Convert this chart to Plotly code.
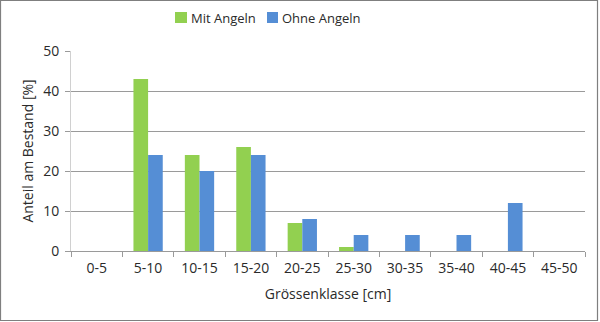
import plotly.graph_objects as go

# Size classes and shares of the stock (%)
classes = ["0-5", "5-10", "10-15", "15-20", "20-25", "25-30",
           "30-35", "35-40", "40-45", "45-50"]
mit_angeln = [0, 43, 24, 26, 7, 1, 0, 0, 0, 0]
ohne_angeln = [0, 24, 20, 24, 8, 4, 4, 4, 12, 0]
series_names = ["Mit Angeln", "Ohne Angeln"]
series_colors = ["#92D050", "#558ED5"]

FONT = "Open Sans"
TEXT = "#2a2a2a"
GRID = "#9a9a9a"

W, H = 600, 322
L, R, T, B = 71, 15, 51, 71
pw, ph = W - L - R, H - T - B


def px_x(p):
    return (p - L) / pw


def px_y(p):
    return (H - B - p) / ph


fig = go.Figure()
for name, vals, col in zip(series_names, [mit_angeln, ohne_angeln],
                           series_colors):
    fig.add_trace(go.Bar(
        x=classes, y=vals, name=name, showlegend=False,
        marker=dict(color=col, line=dict(width=0)),
    ))

# Legend: coloured squares followed by the series names
shapes = []
annotations = []
legend_pos = [(175, 187), (267, 278)]
for (sx0, sx1), name, col in zip(legend_pos, series_names, series_colors):
    shapes.append(dict(type="rect", xref="paper", yref="paper",
                       x0=px_x(sx0), x1=px_x(sx1),
                       y0=px_y(23), y1=px_y(12),
                       line=dict(width=0), fillcolor=col))
    annotations.append(dict(text=name, xref="paper", yref="paper",
                            x=px_x(sx1 + 2), y=px_y(17.5),
                            xanchor="left", yanchor="middle",
                            showarrow=False,
                            font=dict(size=13, color=TEXT)))

# Outer frame
shapes.append(dict(type="rect", xref="paper", yref="paper",
                   x0=px_x(0.5), x1=px_x(597.5),
                   y0=px_y(320.5), y1=px_y(0.5),
                   line=dict(color="#7f7f7f", width=1.2),
                   fillcolor="rgba(0,0,0,0)", layer="below"))

fig.update_layout(
    width=W, height=H,
    margin=dict(l=L, r=R, t=T, b=B),
    paper_bgcolor="white", plot_bgcolor="white",
    barmode="group", bargap=0.43, bargroupgap=0,
    font=dict(family=FONT, size=13, color=TEXT),
    xaxis=dict(
        type="category", tickson="boundaries", ticks="outside",
        ticklen=5, tickcolor=GRID, showline=True, linecolor=GRID,
        linewidth=1, showgrid=False, ticklabelstandoff=4,
        tickfont=dict(size=14),
        title=dict(text="Grössenklasse [cm]", standoff=13,
                   font=dict(size=14)),
    ),
    yaxis=dict(
        range=[0, 50], dtick=10, ticks="outside", ticklen=5,
        tickcolor=GRID, showline=True, linecolor="#d0d0d0",
        gridcolor=GRID, gridwidth=1, zeroline=False,
        ticklabelstandoff=3,
        title=dict(text="Anteil am Bestand [%]", standoff=6,
                   font=dict(size=14)),
        tickfont=dict(size=14),
    ),
    shapes=shapes,
    annotations=annotations,
)

fig.write_html("out.html")
